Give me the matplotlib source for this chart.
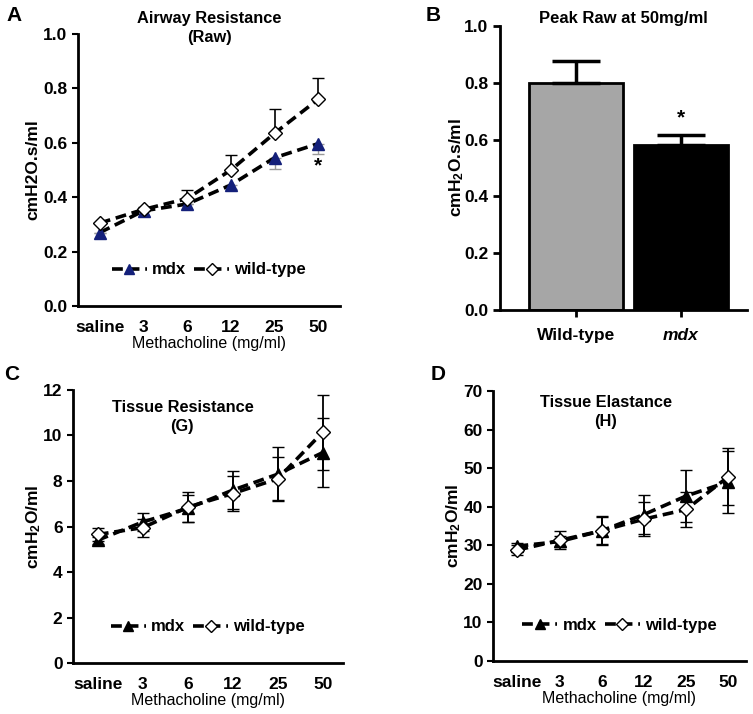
import matplotlib
matplotlib.use("Agg")
from matplotlib import pyplot as plt
import numpy as np

plt.rcParams['font.family'] = ['Liberation Sans', 'DejaVu Sans']
plt.rcParams['mathtext.fontset'] = 'custom'
plt.rcParams['mathtext.rm'] = 'Liberation Sans:bold'
plt.rcParams['mathtext.bf'] = 'Liberation Sans:bold'
plt.rcParams['mathtext.default'] = 'bf'

doses = ['saline', '3', '6', '12', '25', '50']

# A - airway resistance
raw_mdx = [0.27, 0.35, 0.375, 0.445, 0.545, 0.597]
raw_mdx_err = [0.0, 0.0, 0.0, 0.015, 0.04, 0.04]
raw_wt = [0.305, 0.355, 0.395, 0.50, 0.635, 0.76]
raw_wt_err = [0.0, 0.01, 0.03, 0.055, 0.09, 0.08]

# B - peak raw at 50 mg/ml
peak_groups = ['Wild-type', 'mdx']
peak_vals = [0.80, 0.58]
peak_err = [0.075, 0.037]

# C - tissue resistance
g_mdx = [5.4, 6.2, 6.8, 7.6, 8.3, 9.25]
g_mdx_err = [0.15, 0.4, 0.6, 0.85, 1.2, 1.5]
g_wt = [5.65, 5.95, 6.85, 7.45, 8.1, 10.15]
g_wt_err = [0.3, 0.4, 0.65, 0.75, 0.95, 1.65]

# D - tissue elastance
h_mdx = [29.8, 31.0, 33.8, 38.0, 42.8, 46.5]
h_mdx_err = [0.7, 1.5, 3.5, 5.0, 6.7, 8.0]
h_wt = [28.8, 31.3, 33.8, 36.8, 39.3, 47.8]
h_wt_err = [1.3, 2.3, 3.7, 4.5, 4.5, 7.4]

navy = '#14207a'
fs = 12.5
fig = plt.figure(figsize=(7.53, 7.14), dpi=100)


def style(ax):
    for s in ['top', 'right']:
        ax.spines[s].set_visible(False)
    for s in ['left', 'bottom']:
        ax.spines[s].set_linewidth(2)
    ax.tick_params(axis='y', direction='out', length=4, width=1.5, labelsize=fs)
    ax.tick_params(axis='x', length=0, labelsize=fs, pad=10)
    for lb in ax.get_xticklabels() + ax.get_yticklabels():
        lb.set_fontweight('bold')


def line_panel(ax, mdx, mdx_err, wt, wt_err, mcol, ylim, yticks, fmt, one_sided):
    x = np.arange(len(doses))
    if one_sided:
        ax.errorbar(x, mdx, yerr=[mdx_err, np.zeros(len(x))], fmt='none', ecolor='#999999', elinewidth=1, capsize=4, zorder=1)
        ax.errorbar(x, wt, yerr=[np.zeros(len(x)), wt_err], fmt='none', ecolor='black', elinewidth=1.2, capsize=4, zorder=1)
    else:
        ax.errorbar(x, mdx, yerr=mdx_err, fmt='none', ecolor='black', elinewidth=1.3, capsize=4, zorder=1)
        ax.errorbar(x, wt, yerr=wt_err, fmt='none', ecolor='black', elinewidth=1.3, capsize=4, zorder=1)
    ax.plot(x, mdx, ls=(0, (3, 1.6)), lw=2.6, color='black', marker='^', ms=8.5,
            mfc=mcol, mec=mcol, label='mdx', zorder=3)
    ax.plot(x, wt, ls=(0, (3, 1.6)), lw=2.6, color='black', marker='D', ms=7.5,
            mfc='white', mec='black', mew=1, label='wild-type', zorder=3)
    ax.set_ylim(*ylim)
    ax.set_yticks(yticks)
    ax.set_yticklabels([fmt.format(v) for v in yticks])
    ax.set_xticks(x)
    ax.set_xticklabels(doses)
    ax.set_xlabel('Methacholine (mg/ml)', fontsize=11.5, labelpad=1)
    ax.legend(loc='lower center', bbox_to_anchor=(0.5, 0.05), ncol=2, frameon=False,
              handlelength=2.1, columnspacing=0.5, handletextpad=0.3, markerscale=0.85,
              prop={'weight': 'bold', 'size': 12})
    style(ax)


# A
axA = fig.add_axes([0.1036, 0.5714, 0.348, 0.381])
axA.set_xlim(-0.5, 5.5)
line_panel(axA, raw_mdx, raw_mdx_err, raw_wt, raw_wt_err, navy, (0, 1.0),
           [0, 0.2, 0.4, 0.6, 0.8, 1.0], '{:.1f}', True)
axA.set_ylabel('cmH2O.s/ml', fontsize=fs, fontweight='bold')
axA.yaxis.set_label_coords(-0.145, 0.5)
axA.text(5, 0.515, '*', ha='center', va='center', fontsize=15, fontweight='bold')
axA.text(0.5, 1.022, 'Airway Resistance\n(Raw)', transform=axA.transAxes, ha='center', va='center',
         fontsize=11.8, fontweight='bold', linespacing=1.35)
fig.text(0.008, 0.978, 'A', fontsize=15, fontweight='bold', va='center')

# B
axB = fig.add_axes([0.664, 0.5658, 0.328, 0.398])
xb = np.arange(len(peak_groups))
axB.bar(xb, peak_vals, width=0.9, color=['#a6a6a6', 'black'], edgecolor='black', linewidth=2,
        yerr=[[0, 0], peak_err], error_kw=dict(ecolor='black', elinewidth=2.5, capsize=17.5, capthick=2.5), zorder=2)
axB.set_xlim(-0.724, 1.629)
axB.set_ylim(0, 1.0)
axB.set_yticks([0, 0.2, 0.4, 0.6, 0.8, 1.0])
axB.set_yticklabels(['{:.1f}'.format(v) for v in [0, 0.2, 0.4, 0.6, 0.8, 1.0]])
axB.set_xticks(xb)
axB.set_xticklabels(peak_groups)
style(axB)
axB.tick_params(axis='x', direction='out', length=5, width=2, pad=8)
axB.tick_params(axis='y', length=5, width=2)
axB.get_xticklabels()[1].set_fontstyle('italic')
axB.set_ylabel('cmH$_2$O.s/ml', fontsize=fs, fontweight='bold')
axB.yaxis.set_label_coords(-0.137, 0.5)
axB.text(1, 0.675, '*', ha='center', va='center', fontsize=15, fontweight='bold')
axB.set_title('Peak Raw at 50mg/ml', fontsize=12, fontweight='bold', pad=2)
fig.text(0.565, 0.978, 'B', fontsize=15, fontweight='bold', va='center')

# C
axC = fig.add_axes([0.097, 0.0714, 0.3586, 0.3824])
axC.set_xlim(-0.55, 5.45)
line_panel(axC, g_mdx, g_mdx_err, g_wt, g_wt_err, 'black', (0, 12),
           [0, 2, 4, 6, 8, 10, 12], '{:d}', False)
axC.set_ylabel('cmH$_2$O/ml', fontsize=fs, fontweight='bold')
axC.yaxis.set_label_coords(-0.11, 0.5)
axC.text(0.405, 0.90, 'Tissue Resistance\n(G)', transform=axC.transAxes, ha='center', va='center',
         fontsize=11.8, fontweight='bold', linespacing=1.35)
fig.text(0.006, 0.476, 'C', fontsize=15, fontweight='bold', va='center')

# D
axD = fig.add_axes([0.6547, 0.0742, 0.336, 0.378])
axD.set_xlim(-0.58, 5.42)
line_panel(axD, h_mdx, h_mdx_err, h_wt, h_wt_err, 'black', (0, 70),
           [0, 10, 20, 30, 40, 50, 60, 70], '{:d}', False)
axD.set_ylabel('cmH$_2$O/ml', fontsize=fs, fontweight='bold')
axD.yaxis.set_label_coords(-0.118, 0.5)
axD.text(0.445, 0.922, 'Tissue Elastance\n(H)', transform=axD.transAxes, ha='center', va='center',
         fontsize=11.8, fontweight='bold', linespacing=1.35)
fig.text(0.572, 0.476, 'D', fontsize=15, fontweight='bold', va='center')

fig.savefig('out.png', dpi=100)
